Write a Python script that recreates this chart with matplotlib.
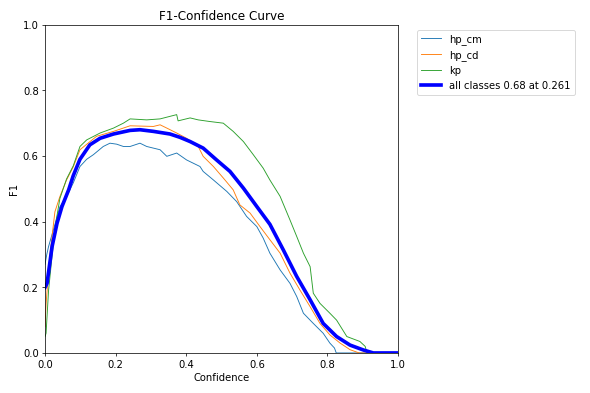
import numpy as np
import matplotlib
matplotlib.use("Agg")
import matplotlib.pyplot as plt

# werte
conf_cm = [0.0, 0.005, 0.01, 0.029, 0.042, 0.061, 0.080, 0.099, 0.118, 0.137, 0.165, 0.184, 0.203,
           0.222, 0.241, 0.269, 0.288, 0.326, 0.345, 0.373, 0.401, 0.42, 0.439, 0.448, 0.477,
           0.515, 0.543, 0.571, 0.60, 0.618, 0.637, 0.666, 0.694, 0.713, 0.732, 0.76, 0.788,
           0.807, 0.82, 0.825, 1.0]
f1_cm = [0.27, 0.30, 0.324, 0.395, 0.445, 0.476, 0.518, 0.568, 0.59, 0.604, 0.629, 0.639, 0.636,
         0.629, 0.629, 0.639, 0.629, 0.619, 0.599, 0.609, 0.588, 0.578, 0.568, 0.553, 0.527,
         0.492, 0.461, 0.416, 0.385, 0.35, 0.304, 0.253, 0.212, 0.172, 0.121, 0.09, 0.06,
         0.03, 0.015, 0.0, 0.0]

conf_cd = [0.0, 0.003, 0.014, 0.028, 0.042, 0.061, 0.080, 0.099, 0.146, 0.194, 0.241, 0.307, 0.326,
           0.345, 0.373, 0.401, 0.434, 0.448, 0.477, 0.505, 0.533, 0.552, 0.581, 0.609, 0.637,
           0.666, 0.694, 0.722, 0.751, 0.779, 0.807, 0.836, 0.864, 0.89, 1.0]
f1_cd = [0.08, 0.15, 0.30, 0.43, 0.476, 0.527, 0.567, 0.619, 0.66, 0.675, 0.692, 0.69, 0.695,
         0.685, 0.67, 0.654, 0.629, 0.599, 0.568, 0.533, 0.497, 0.451, 0.426, 0.385, 0.345,
         0.304, 0.243, 0.192, 0.141, 0.09, 0.055, 0.03, 0.01, 0.0, 0.0]

conf_kp = [0.0, 0.003, 0.01, 0.028, 0.042, 0.061, 0.080, 0.099, 0.118, 0.156, 0.194, 0.222, 0.241,
           0.288, 0.326, 0.373, 0.377, 0.411, 0.434, 0.467, 0.505, 0.533, 0.562, 0.59, 0.618,
           0.637, 0.666, 0.694, 0.713, 0.732, 0.751, 0.76, 0.779, 0.807, 0.826, 0.855, 0.892,
           0.907, 0.912, 1.0]
f1_kp = [0.05, 0.06, 0.19, 0.38, 0.47, 0.53, 0.57, 0.629, 0.649, 0.67, 0.685, 0.70, 0.713,
         0.71, 0.713, 0.726, 0.707, 0.716, 0.71, 0.705, 0.70, 0.675, 0.644, 0.604, 0.563,
         0.527, 0.477, 0.405, 0.355, 0.304, 0.263, 0.182, 0.151, 0.121, 0.10, 0.05, 0.035,
         0.02, 0.0, 0.0]

conf_all = [0.0, 0.0057, 0.02, 0.034, 0.048, 0.067, 0.080, 0.099, 0.127, 0.156, 0.194, 0.241, 0.269,
            0.307, 0.354, 0.382, 0.411, 0.448, 0.486, 0.524, 0.562, 0.60, 0.637, 0.675, 0.713,
            0.751, 0.788, 0.826, 0.864, 0.902, 0.93, 1.0]
f1_all = [0.20, 0.212, 0.324, 0.395, 0.446, 0.497, 0.54, 0.59, 0.634, 0.654, 0.667, 0.678, 0.68,
          0.675, 0.667, 0.657, 0.644, 0.624, 0.588, 0.553, 0.502, 0.446, 0.392, 0.314, 0.233,
          0.162, 0.09, 0.05, 0.024, 0.009, 0.0, 0.0]

namen = ['hp_cm', 'hp_cd', 'kp']

plt.rcParams['font.size'] = 11

fig, ax = plt.subplots(1, 1, figsize=(9, 6), dpi=590 / 9)
fig.subplots_adjust(left=0.0763, right=0.6746, bottom=0.1018, top=0.9364)

ax.plot(conf_cm, f1_cm, linewidth=1, label=namen[0])
ax.plot(conf_cd, f1_cd, linewidth=1, label=namen[1])
ax.plot(conf_kp, f1_kp, linewidth=1, label=namen[2])
ax.plot(conf_all, f1_all, linewidth=4, color='blue', label='all classes 0.68 at 0.261')

ax.set_xlabel('Confidence')
ax.set_ylabel('F1')
ax.set_xlim(0, 1)
ax.set_ylim(0, 1)
ax.legend(bbox_to_anchor=(1.04, 1), loc='upper left')
ax.set_title('F1-Confidence Curve')
fig.savefig('out.png', dpi=590 / 9)
